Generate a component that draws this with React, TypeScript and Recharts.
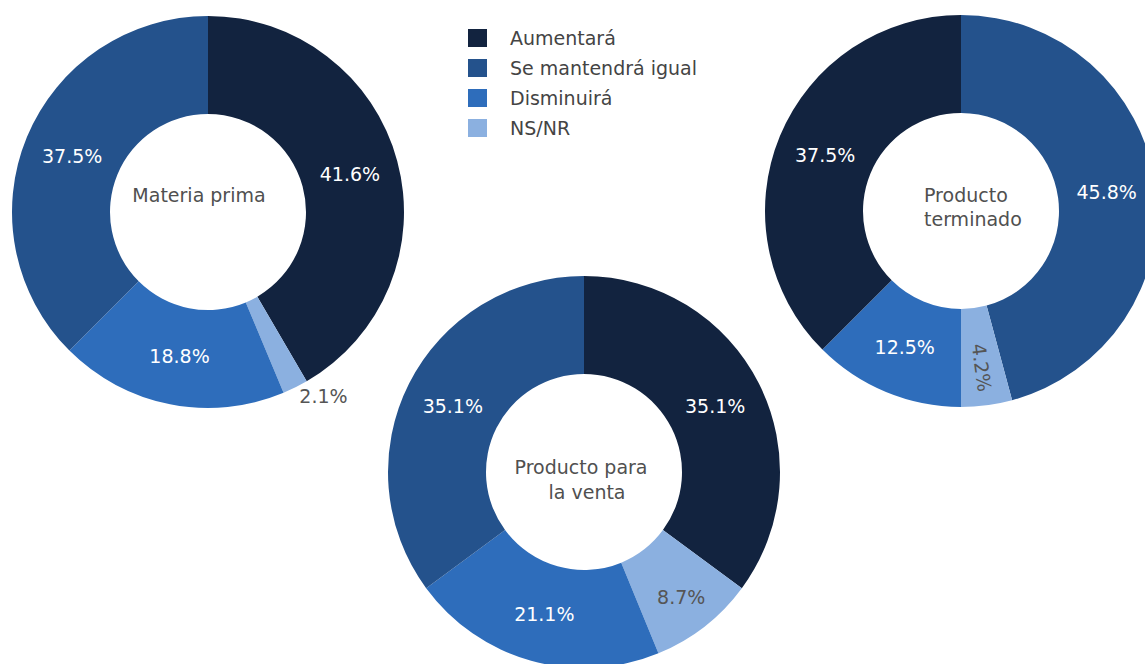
import { Pie, PieChart, Cell } from "recharts";

const categorias = ["Aumentará", "Se mantendrá igual", "Disminuirá", "NS/NR"];
const colores = ["#12233f", "#24528c", "#2e6dbb", "#8bb0e0"];

// values clockwise from 12 o'clock, as categorias index + percent
const materiaPrimaCat = [0, 3, 2, 1];
const materiaPrimaVal = [41.6, 2.1, 18.8, 37.5];

const ventaCat = [0, 3, 2, 1];
const ventaVal = [35.1, 8.7, 21.1, 35.1];

const terminadoCat = [1, 3, 2, 0];
const terminadoVal = [45.8, 4.2, 12.5, 37.5];

const FONT = "'DejaVu Sans', Verdana, sans-serif";
const FS = 19;
const RADIAN = Math.PI / 180;

function build(cats: number[], vals: number[]) {
  return cats.map((c, i) => ({ name: categorias[c], cat: c, value: vals[i] }));
}

function renderLabel(props: any) {
  const { cx, cy, midAngle, innerRadius, outerRadius, value, payload } = props;
  const light = payload.cat === 3;
  const fill = light ? "#555" : "#fff";
  if (value < 3) {
    const r = outerRadius + 9;
    const x = cx + r * Math.cos(-midAngle * RADIAN);
    const y = cy + r * Math.sin(-midAngle * RADIAN);
    return (
      <text x={x} y={y} fill="#555" fontSize={FS} fontFamily={FONT} textAnchor="start" dominantBaseline="central">
        {value.toFixed(1)}%
      </text>
    );
  }
  // narrow slices get pushed a bit outward, as in the original
  const r = (innerRadius + outerRadius) / 2 + (value < 10 ? 11 : 0);
  const x = cx + r * Math.cos(-midAngle * RADIAN);
  const y = cy + r * Math.sin(-midAngle * RADIAN);
  const rot = value < 6 ? -midAngle : 0;
  return (
    <text
      x={x}
      y={y}
      fill={fill}
      fontSize={FS}
      fontFamily={FONT}
      textAnchor="middle"
      dominantBaseline="central"
      transform={rot ? `rotate(${rot}, ${x}, ${y})` : undefined}
    >
      {value.toFixed(1)}%
    </text>
  );
}

function Donut({ data, cx, cy }: { data: any[]; cx: number; cy: number }) {
  return (
    <Pie
      data={data}
      dataKey="value"
      cx={cx}
      cy={cy}
      innerRadius={98}
      outerRadius={196}
      startAngle={90}
      endAngle={-270}
      stroke="none"
      label={renderLabel}
      labelLine={false}
      isAnimationActive={false}
    >
      {data.map((d, i) => (
        <Cell key={i} fill={colores[d.cat]} />
      ))}
    </Pie>
  );
}

const centroStyle = { fontFamily: FONT, fontSize: FS, fill: "#505050" };

export default function App() {
  return (
    <div style={{ position: "absolute", left: 0, top: 0, width: 1145, height: 664, background: "#fff", overflow: "hidden" }}>
      <PieChart width={1145} height={664} margin={{ top: 0, right: 0, bottom: 0, left: 0 }}>
        {Donut({ data: build(materiaPrimaCat, materiaPrimaVal), cx: 208, cy: 212 })}
        {Donut({ data: build(ventaCat, ventaVal), cx: 584, cy: 472 })}
        {Donut({ data: build(terminadoCat, terminadoVal), cx: 961, cy: 211 })}
        <text x={199} y={195} textAnchor="middle" dominantBaseline="central" style={centroStyle}>
          Materia prima
        </text>
        <text x={924} y={195} textAnchor="start" dominantBaseline="central" style={centroStyle}>
          Producto
        </text>
        <text x={924} y={219} textAnchor="start" dominantBaseline="central" style={centroStyle}>
          terminado
        </text>
        <text x={581} y={467} textAnchor="middle" dominantBaseline="central" style={centroStyle}>
          Producto para
        </text>
        <text x={587} y={492} textAnchor="middle" dominantBaseline="central" style={centroStyle}>
          la venta
        </text>
        {categorias.map((c, i) => (
          <g key={c}>
            <rect x={468} y={29 + i * 30} width={19} height={18} fill={colores[i]} />
            <text x={510} y={38 + i * 30} dominantBaseline="central" style={{ fontFamily: FONT, fontSize: FS, fill: "#444" }}>
              {c}
            </text>
          </g>
        ))}
      </PieChart>
    </div>
  );
}
